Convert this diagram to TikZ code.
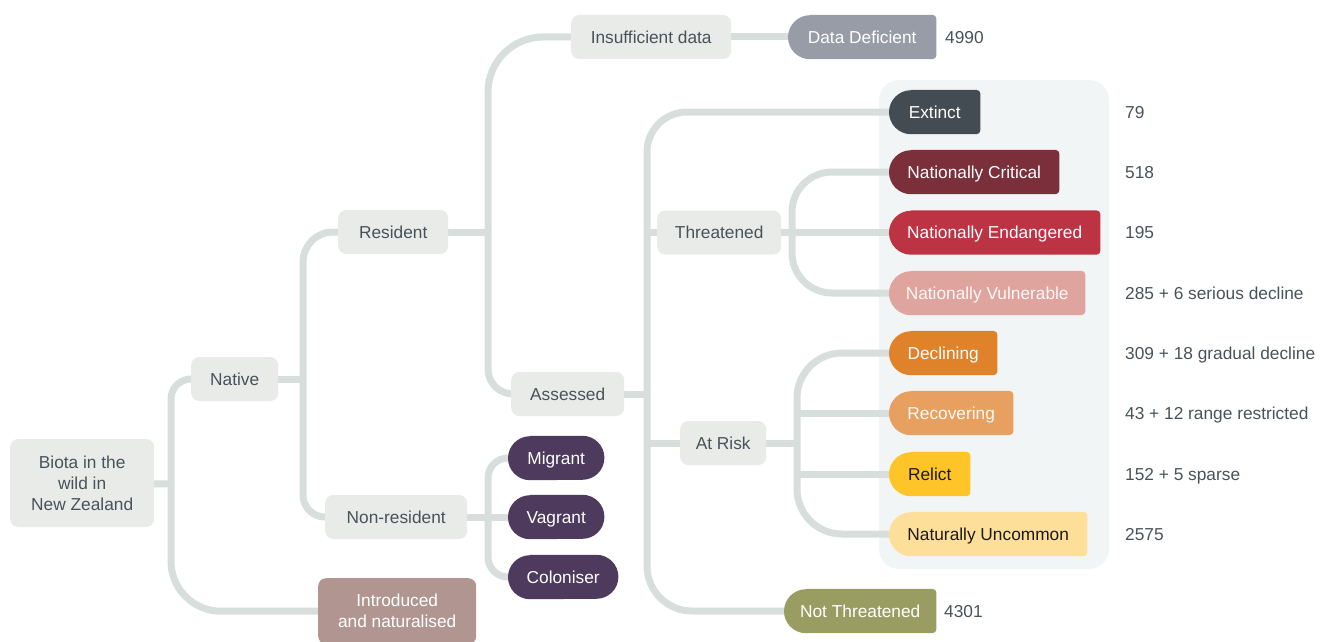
\documentclass[tikz,border=0pt]{standalone}
\usepackage{fontspec}
\setmainfont{Liberation Sans}
\usetikzlibrary{calc}

\definecolor{boxgray}{HTML}{E9EBE9}
\definecolor{ink}{HTML}{4A5259}
\definecolor{linegray}{HTML}{D7DEDB}
\definecolor{panelcol}{HTML}{F2F5F6}
\definecolor{ddgray}{HTML}{979CA6}
\definecolor{extc}{HTML}{434B53}
\definecolor{crit}{HTML}{7A2F3A}
\definecolor{endg}{HTML}{BC3444}
\definecolor{vuln}{HTML}{E0A49F}
\definecolor{decl}{HTML}{E0822A}
\definecolor{recv}{HTML}{E8A060}
\definecolor{relc}{HTML}{FEC428}
\definecolor{uncm}{HTML}{FDDF99}
\definecolor{notc}{HTML}{9A9D62}
\definecolor{purp}{HTML}{4E3A5C}
\definecolor{intr}{HTML}{B09591}
\definecolor{dark}{HTML}{1B1B1B}

\pgfdeclarelayer{panel}
\pgfdeclarelayer{conn}
\pgfdeclarelayer{shapes}
\pgfsetlayers{panel,conn,shapes,main}

% status tag: round left end, slightly rounded right corners (one outline)
\newcommand\tagfill[2]{%
  \begin{pgfonlayer}{shapes}
    \fill[#2] ([xshift=22pt]#1.north west)
      -- ([xshift=-4pt]#1.north east)
      arc[start angle=90, end angle=0, radius=4pt]
      -- ([yshift=4pt]#1.south east)
      arc[start angle=0, end angle=-90, radius=4pt]
      -- ([xshift=22pt]#1.south west)
      arc[start angle=-90, end angle=-270, radius=22pt]
      -- cycle;
  \end{pgfonlayer}}
% pill: both ends round
\newcommand\pillfill[2]{%
  \begin{pgfonlayer}{shapes}
    \fill[#2] ([xshift=22pt]#1.north west)
      -- ([xshift=-22pt]#1.north east)
      arc[start angle=90, end angle=-90, radius=22pt]
      -- ([xshift=22pt]#1.south west)
      arc[start angle=-90, end angle=-270, radius=22pt]
      -- cycle;
  \end{pgfonlayer}}

\begin{document}
\begin{tikzpicture}[x=1pt, y=-1pt,
  every node/.style={font=\fontsize{17.3}{21}\selectfont},
  oneline/.style={inner sep=0pt, text height=12.4pt, text depth=0pt},
  box/.style={oneline, fill=boxgray, rounded corners=8pt, text=ink,
    minimum height=44pt, anchor=west},
  tag/.style={oneline, minimum height=44pt, anchor=west, text=white},
  count/.style={oneline, anchor=west, text=ink},
  conn/.style={draw=linegray, line width=7pt}]

\useasboundingbox (0,0) rectangle (1330,642);

% background panel behind the threat categories
\begin{pgfonlayer}{panel}
  \fill[panelcol, rounded corners=20pt] (879,80) rectangle (1109,569);
\end{pgfonlayer}

% grey category boxes
\node[fill=boxgray, rounded corners=8pt, text=ink, inner sep=0pt,
  minimum width=144pt, minimum height=88pt, align=center, anchor=west]
  (biota) at (10,483) {Biota in the\\wild in\\New Zealand};
\node[box, minimum width=87pt]  (native)   at (191,379) {Native};
\node[box, minimum width=110pt] (resident) at (338,232) {Resident};
\node[box, minimum width=142pt] (nonres)   at (325,517) {Non-resident};
\node[box, minimum width=160pt] (insuff)   at (571,37)  {Insufficient data};
\node[box, minimum width=113pt] (assessed) at (511,394) {Assessed};
\node[box, minimum width=124pt] (threat)   at (657,232.5) {Threatened};
\node[box, minimum width=86pt]  (atrisk)   at (680,443) {At Risk};

\node[fill=intr, rounded corners=8pt, text=white, inner sep=0pt,
  minimum width=158pt, minimum height=66pt, align=center, anchor=north west]
  (intro) at (318,578) {Introduced\\and naturalised};

% non-resident kinds
\node[tag, minimum width=96pt]  (migrant) at (508,458) {Migrant};
\node[tag, minimum width=96pt]  (vagrant) at (508,517) {Vagrant};
\node[tag, minimum width=110pt] (colon)   at (508,577) {Coloniser};
\pillfill{migrant}{purp}
\pillfill{vagrant}{purp}
\pillfill{colon}{purp}

% status tags
\node[tag, minimum width=148pt] (datadef)  at (788,37)  {Data Deficient};
\node[tag, minimum width=91pt]  (extinct)  at (889,112) {Extinct};
\node[tag, minimum width=170pt] (critical) at (889,172) {Nationally Critical};
\node[tag, minimum width=211pt] (endang)   at (889,232.5) {Nationally Endangered};
\node[tag, minimum width=196pt, text=white!92!vuln] (vulner) at (889,293) {Nationally Vulnerable};
\node[tag, minimum width=108pt] (declin)   at (889,353) {Declining};
\node[tag, minimum width=124pt, text=white!95!recv] (recov) at (889,413) {Recovering};
\node[tag, minimum width=81pt, text=dark]  (relict)   at (889,474) {Relict};
\node[tag, minimum width=198pt, text=dark] (uncommon) at (889,534) {Naturally Uncommon};
\node[tag, minimum width=152pt] (notthr)   at (784,611) {Not Threatened};
\tagfill{datadef}{ddgray}
\tagfill{extinct}{extc}
\tagfill{critical}{crit}
\tagfill{endang}{endg}
\tagfill{vulner}{vuln}
\tagfill{declin}{decl}
\tagfill{recov}{recv}
\tagfill{relict}{relc}
\tagfill{uncommon}{uncm}
\tagfill{notthr}{notc}

% counts
\node[count] (n-dd)   at (945,37)   {4990};
\node[count] (n-nt)   at (944,611)  {4301};
\node[count] (n-ext)  at (1125,112) {79};
\node[count] (n-crit) at (1125,172) {518};
\node[count] (n-end)  at (1125,232.5) {195};
\node[count] (n-vul)  at (1125,293) {285 + 6 serious decline};
\node[count] (n-dec)  at (1125,353) {309 + 18 gradual decline};
\node[count] (n-rec)  at (1125,413) {43 + 12 range restricted};
\node[count] (n-rel)  at (1125,474) {152 + 5 sparse};
\node[count] (n-unc)  at (1125,534) {2575};

% branch junctions
\coordinate (j0) at (171,484);
\coordinate (j1) at (303,379);
\coordinate (j2) at (488,232);
\coordinate (j3) at (488,517);
\coordinate (j4) at (647,394);
\coordinate (j5) at (792,232.5);
\coordinate (j6) at (797,443);

\begin{pgfonlayer}{conn}
  % biota
  \draw[conn] (biota.center) -- (j0);
  \draw[conn, rounded corners=20pt] (j0) |- (native.center);
  \draw[conn, rounded corners=50pt] (j0) |- (intro.center);
  % native
  \draw[conn] (native.center) -- (j1);
  \draw[conn, rounded corners=30pt] (j1) |- (resident.center);
  \draw[conn, rounded corners=22pt] (j1) |- (nonres.center);
  % resident
  \draw[conn] (resident.center) -- (j2);
  \draw[conn, rounded corners=55pt] (j2) |- (insuff.center);
  \draw[conn, rounded corners=25pt] (j2) |- (assessed.center);
  \draw[conn] (insuff.center) -- (datadef.center);
  % non-resident
  \draw[conn] (nonres.center) -- (vagrant.center);
  \draw[conn, rounded corners=20pt] (j3) |- (migrant.center);
  \draw[conn, rounded corners=20pt] (j3) |- (colon.center);
  % assessed
  \draw[conn] (assessed.center) -- (j4);
  \draw[conn, rounded corners=40pt] (j4) |- (extinct.center);
  \draw[conn, rounded corners=45pt] (j4) |- (notthr.center);
  \draw[conn] (threat.center) -- (threat.center -| j4);
  \draw[conn] (atrisk.center) -- (atrisk.center -| j4);
  % threatened
  \draw[conn] (threat.center) -- (endang.center);
  \draw[conn, rounded corners=40pt] (j5) |- (critical.center);
  \draw[conn, rounded corners=40pt] (j5) |- (vulner.center);
  % at risk
  \draw[conn] (atrisk.center) -- (j6);
  \draw[conn, rounded corners=45pt] (j6) |- (declin.center);
  \draw[conn, rounded corners=45pt] (j6) |- (uncommon.center);
  \draw[conn] (recov.center -| j6) -- (recov.center);
  \draw[conn] (relict.center -| j6) -- (relict.center);
\end{pgfonlayer}
\end{tikzpicture}
\end{document}
